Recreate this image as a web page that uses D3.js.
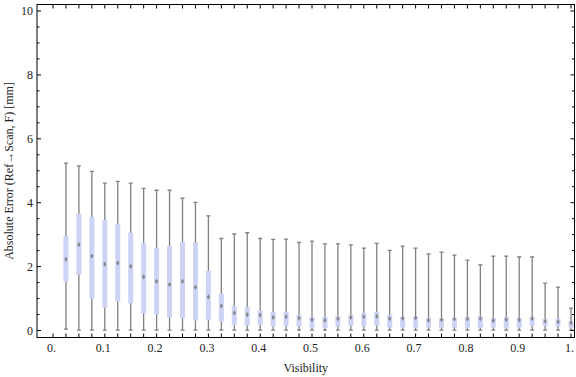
<!DOCTYPE html>
<html>
<head>
<meta charset="utf-8">
<script src="https://cdn.jsdelivr.net/npm/d3@7"></script>
<style>
  body { margin: 0; background: #fff; }
  text { font-family: "Liberation Serif", "Times New Roman", serif; }
</style>
</head>
<body>
<div id="chart"></div>
<script>
// visibility bins 0.025 .. 1.0
var visibility = d3.range(1, 41).map(function(k) { return k * 0.025 })

var maxs = [5.24, 5.15, 4.98, 4.61, 4.67, 4.61, 4.45, 4.39, 4.39, 4.14,
            4.01, 3.59, 2.88, 3.02, 3.06, 2.88, 2.85, 2.86, 2.76, 2.80,
            2.71, 2.71, 2.68, 2.58, 2.73, 2.51, 2.64, 2.58, 2.40, 2.45,
            2.36, 2.20, 2.05, 2.33, 2.33, 2.30, 2.30, 1.48, 1.36, 0.70]
var q3s = [2.96, 3.65, 3.56, 3.46, 3.34, 3.06, 2.73, 2.59, 2.65, 2.77,
           2.74, 1.87, 1.15, 0.76, 0.73, 0.62, 0.58, 0.58, 0.49, 0.43,
           0.43, 0.46, 0.49, 0.55, 0.58, 0.49, 0.43, 0.43, 0.40, 0.37,
           0.40, 0.43, 0.46, 0.40, 0.43, 0.40, 0.43, 0.37, 0.37, 0.30]
var medians = [2.23, 2.69, 2.33, 2.08, 2.11, 2.01, 1.68, 1.54, 1.44, 1.54,
               1.35, 1.05, 0.77, 0.55, 0.50, 0.48, 0.41, 0.43, 0.39, 0.34,
               0.32, 0.37, 0.41, 0.43, 0.44, 0.37, 0.38, 0.40, 0.32, 0.34,
               0.36, 0.36, 0.37, 0.31, 0.34, 0.33, 0.37, 0.29, 0.27, 0.24]
var q1s = [1.53, 1.75, 1.00, 0.72, 0.91, 0.85, 0.53, 0.50, 0.41, 0.38,
           0.31, 0.33, 0.28, 0.18, 0.15, 0.18, 0.13, 0.13, 0.13, 0.08,
           0.08, 0.12, 0.15, 0.13, 0.15, 0.09, 0.09, 0.09, 0.09, 0.09,
           0.09, 0.08, 0.08, 0.09, 0.06, 0.09, 0.15, 0.15, 0.13, 0.09]
var mins = [0.04, 0.01, 0.01, 0.01, 0.01, 0.01, 0.01, 0.01, 0.01, 0.01,
            0.01, 0.01, 0.01, 0.01, 0.01, 0.01, 0.01, 0.01, 0.01, 0.01,
            0.01, 0.01, 0.01, 0.01, 0.01, 0.01, 0.01, 0.01, 0.01, 0.01,
            0.01, 0.01, 0.01, 0.01, 0.01, 0.01, 0.01, 0.01, 0.01, 0.01]

var xTickValues = d3.range(0, 41).map(function(k) { return k * 0.025 })
var xLabels = ["0.", "0.1", "0.2", "0.3", "0.4", "0.5", "0.6", "0.7", "0.8", "0.9", "1."]
var yLabels = [0, 2, 4, 6, 8, 10]

var xTitle = "Visibility"
var yTitle = "Absolute Error (Ref\u2192Scan, F) [mm]"

var data = visibility.map(function(v, i) {
    return { v: v, max: maxs[i], q3: q3s[i], med: medians[i], q1: q1s[i], min: mins[i] }
})

var width = 576, height = 377
var frame = { left: 37, right: 574.5, top: 4.5, bottom: 337.5 }

var svg = d3.select('#chart')
    .append('svg')
    .attr('width', width)
    .attr('height', height)

var x = d3.scaleLinear().domain([0, 1]).range([53, 571])
var y = d3.scaleLinear().domain([0, 10]).range([330.5, 11])

var plot = svg.append('g')

// clip to frame
svg.append('clipPath').attr('id', 'clip')
    .append('rect')
    .attr('x', frame.left).attr('y', frame.top)
    .attr('width', frame.right - frame.left)
    .attr('height', frame.bottom - frame.top)
plot.attr('clip-path', 'url(#clip)')

var boxW = 5, capW = 4

var g = plot.selectAll('g.bw')
    .data(data)
    .enter()
    .append('g')
    .attr('class', 'bw')

g.append('line')
    .attr('x1', function(d) { return x(d.v) })
    .attr('x2', function(d) { return x(d.v) })
    .attr('y1', function(d) { return y(d.min) })
    .attr('y2', function(d) { return y(d.max) })
    .style('stroke', '#808080')
    .style('stroke-width', 1.3)

g.selectAll('line.cap')
    .data(function(d) { return [{ v: d.v, val: d.min }, { v: d.v, val: d.max }] })
    .enter()
    .append('line')
    .attr('class', 'cap')
    .attr('x1', function(d) { return x(d.v) - capW / 2 })
    .attr('x2', function(d) { return x(d.v) + capW / 2 })
    .attr('y1', function(d) { return y(d.val) })
    .attr('y2', function(d) { return y(d.val) })
    .style('stroke', '#808080')
    .style('stroke-width', 1.3)

g.append('rect')
    .attr('x', function(d) { return x(d.v) - boxW / 2 })
    .attr('width', boxW)
    .attr('y', function(d) { return y(d.q3) })
    .attr('height', function(d) { return y(d.q1) - y(d.q3) })
    .style('fill', '#cdd3f5')

g.append('path')
    .attr('d', function(d) {
        var cx = x(d.v), cy = y(d.med)
        return 'M' + (cx - 1.6) + ',' + cy + 'L' + cx + ',' + (cy - 2.6) +
               'L' + (cx + 1.6) + ',' + cy + 'L' + cx + ',' + (cy + 2.6) + 'Z'
    })
    .style('fill', '#7d7d7d')
    .style('opacity', 0.9)

// frame
svg.append('rect')
    .attr('x', frame.left).attr('y', frame.top)
    .attr('width', frame.right - frame.left)
    .attr('height', frame.bottom - frame.top)
    .style('fill', 'none')
    .style('stroke', '#000')
    .style('stroke-width', 1)

var axes = svg.append('g').style('stroke', '#000').style('stroke-width', 1)

// bottom & top ticks
xTickValues.forEach(function(v) {
    axes.append('line')
        .attr('x1', x(v)).attr('x2', x(v))
        .attr('y1', frame.bottom).attr('y2', frame.bottom - 4)
    axes.append('line')
        .attr('x1', x(v)).attr('x2', x(v))
        .attr('y1', frame.top).attr('y2', frame.top + 4)
})

// left & right ticks, minor every 0.5
d3.range(0, 20.5).forEach(function(i) {
    var v = i * 0.5
    var len = (i % 4 === 0) ? 4 : 2.5
    axes.append('line')
        .attr('x1', frame.left).attr('x2', frame.left + len)
        .attr('y1', y(v)).attr('y2', y(v))
    axes.append('line')
        .attr('x1', frame.right).attr('x2', frame.right - len)
        .attr('y1', y(v)).attr('y2', y(v))
})

svg.selectAll('text.xl')
    .data(xLabels)
    .enter()
    .append('text')
    .attr('class', 'xl')
    .attr('x', function(d, i) { return x(i * 0.1) - 1.5 })
    .attr('y', 352)
    .attr('text-anchor', 'middle')
    .style('font-size', '12px')
    .style('fill', '#222')
    .text(function(d) { return d })

svg.selectAll('text.yl')
    .data(yLabels)
    .enter()
    .append('text')
    .attr('class', 'yl')
    .attr('x', 33)
    .attr('y', function(d) { return y(d) + 4 })
    .attr('text-anchor', 'end')
    .style('font-size', '12px')
    .style('fill', '#222')
    .text(function(d) { return d })

svg.append('text')
    .attr('x', (frame.left + frame.right) / 2)
    .attr('y', 372)
    .attr('text-anchor', 'middle')
    .style('font-size', '12px')
    .style('fill', '#222')
    .text(xTitle)

svg.append('text')
    .attr('transform', 'translate(13,' + ((frame.top + frame.bottom) / 2) + ') rotate(-90)')
    .attr('text-anchor', 'middle')
    .style('font-size', '12px')
    .style('fill', '#222')
    .text(yTitle)
</script>
</body>
</html>
